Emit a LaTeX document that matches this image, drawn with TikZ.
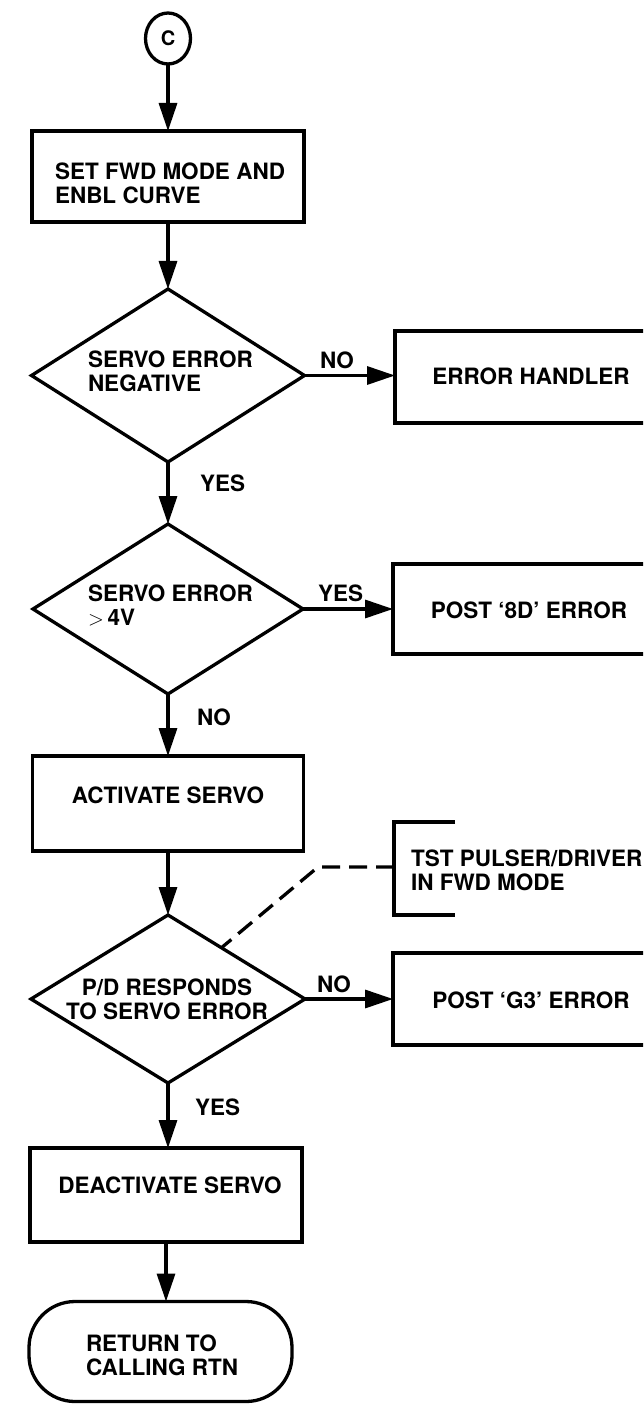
\documentclass[tikz,border=0pt]{standalone}
\usepackage{fontspec}
\setmainfont{TeX Gyre Heros}
\usetikzlibrary{shapes.geometric,arrows.meta,calc}
\begin{document}
\begin{tikzpicture}[x=1pt,y=-1pt,
  every node/.style={inner sep=0pt,outer sep=0pt},
  proc/.style={draw,line width=3.3pt,rectangle},
  dec/.style={draw,line width=3.3pt,diamond},
  term/.style={draw,line width=3.3pt,rectangle,rounded corners=46pt},
  conn/.style={draw,line width=3.3pt,ellipse},
  txt/.style={font=\bfseries\fontsize{22.5}{24}\selectfont,align=left},
  flow/.style={line width=3.3pt,-{Triangle[length=28pt,width=18pt]}},
  note/.style={line width=3.3pt,dash pattern=on 18pt off 9pt},
  bracket/.style={line width=3.3pt}]
\useasboundingbox (0,0) rectangle (643,1404);
\clip (0,0) rectangle (643,1404);

% main column shapes
\node[conn,minimum width=45pt,minimum height=51pt,font=\bfseries\fontsize{20}{20}\selectfont] (start) at (168,38.5) {C};
\node[proc,minimum width=272pt,minimum height=91pt] (box1) at (168,176.5) {};
\node[dec,minimum width=273pt,minimum height=173pt] (d1) at (168,375.5) {};
\node[dec,minimum width=270pt,minimum height=170pt] (d2) at (168,609) {};
\node[proc,minimum width=271pt,minimum height=95pt] (act) at (168,803.5) {};
\node[dec,minimum width=274pt,minimum height=168pt] (d3) at (168,999) {};
\node[proc,minimum width=272pt,minimum height=94pt] (deact) at (166,1195) {};
\node[term,minimum width=263pt,minimum height=100pt] (ret) at (160.5,1351.5) {};

% side boxes
\node[proc,minimum width=265pt,minimum height=92pt] (ehand) at (527.5,377) {};
\node[proc,minimum width=267pt,minimum height=90pt] (b8d) at (526.5,609) {};
\node[proc,minimum width=267pt,minimum height=92pt] (g3) at (526.5,999) {};

% texts in shapes
\node[txt,anchor=west] (t1) at (55,183) {SET FWD MODE AND\\ENBL CURVE};
\node[txt,anchor=west] (td1) at (88,371) {SERVO ERROR\\NEGATIVE};
\node[txt,anchor=west] (td2) at (88,605) {SERVO ERROR\\$>$\,4V};
\node[txt,align=center] (td3) at (167,999) {P/D RESPONDS\\TO SERVO ERROR};
\node[txt] (tact) at (168,795) {ACTIVATE SERVO};
\node[txt] (tdeact) at (170,1185) {DEACTIVATE SERVO};
\node[txt,anchor=west] (tret) at (86,1355) {RETURN TO\\CALLING RTN};
\node[txt] (teh) at (531,376) {ERROR HANDLER};
\node[txt] (t8d) at (529,610) {POST `8D' ERROR};
\node[txt] (tg3) at (531,1000) {POST `G3' ERROR};

% branch labels
\node[txt,anchor=west] (no1) at (320,360) {NO};
\node[txt,anchor=west] (yes1) at (200,483) {YES};
\node[txt,anchor=west] (yes2) at (318,593) {YES};
\node[txt,anchor=west] (no2) at (197,717) {NO};
\node[txt,anchor=west] (no3) at (317,984) {NO};
\node[txt,anchor=west] (yes3) at (195,1107) {YES};

% flow connectors
\draw[flow] (start.south) -- (start.south |- box1.north);
\draw[flow] (box1.south) -- (d1.north);
\draw[flow] (d1.south) -- (d2.north);
\draw[flow] (d2.south) -- (act.north);
\draw[flow] (act.south) -- (d3.north);
\draw[flow] (d3.south) -- (d3.south |- deact.north);
\draw[flow] (deact.south) -- (deact.south |- ret.north);
\draw[flow] (d1.east) -- (d1.east -| ehand.west);
\draw[flow] (d2.east) -- (d2.east -| b8d.west);
\draw[flow] (d3.east) -- (d3.east -| g3.west);

% annotation
\coordinate (brtop) at (455,822);
\coordinate (brbot) at (455,915);
\coordinate (brmid) at (394,867);
\coordinate (bend) at (318,867);
\draw[bracket] (brtop) -- (394,822) -- (394,915) -- (brbot);
\node[txt,anchor=west] (tnote) at (411,870) {TST PULSER/DRIVER\\IN FWD MODE};
\draw[note] (brmid) -- (bend) -- ($(d3.north)!0.39!(d3.east)$);
\end{tikzpicture}
\end{document}
